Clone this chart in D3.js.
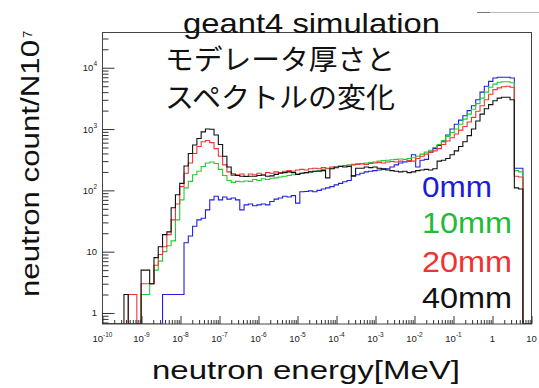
<!DOCTYPE html>
<html>
<head>
<meta charset="utf-8">
<script src="https://cdn.jsdelivr.net/npm/d3@7"></script>
<style>
  html, body { margin: 0; padding: 0; background: #fff; }
  svg { display: block; }
</style>
</head>
<body>
<svg id="chart" width="539" height="388"></svg>
<script>
// Histogram definition: 100 log-spaced energy bins from 1e-10 to 10 MeV
const binCount = 100;
const logEnergyMin = -10;
const logEnergyMax = 1;

// Moderator thickness series (drawing order: blue first, black last)
const seriesNames = ["0mm", "10mm", "20mm", "40mm"];
const seriesColors = ["#2020e0", "#22cc33", "#f03535", "#111111"];
const legendColors = ["#1c1cd8", "#22bb35", "#ee3333", "#111111"];

// Counts per bin (per 1e7 source neutrons), bin 0 .. bin 99
const counts0mm = [
  0, 0, 0, 0, 0, 0, 0, 0, 0, 0,
  0, 0, 0, 0, 2, 2, 2, 2, 2, 14,
  18, 26, 33, 35, 48, 70, 80, 70, 78, 72,
  75, 70, 48, 58, 60, 56, 58, 60, 58, 66,
  72, 75, 80, 78, 82, 62, 95, 96, 98, 95,
  100, 105, 110, 115, 123, 130, 138, 145, 175, 180,
  190, 200, 205, 210, 215, 220, 225, 240, 260, 280,
  290, 300, 380, 240, 310, 320, 420, 480, 540, 620,
  800, 1000, 1200, 1400, 1650, 2000, 2400, 3000, 4000, 5000,
  6000, 6800, 7000, 7000, 7000, 6800, 230, 230, 0, 0
];
const counts10mm = [
  0, 0, 0, 0, 0, 0, 0, 0, 0, 2,
  2, 3, 5, 7, 10, 12.5, 15, 33, 70, 110,
  140, 180, 205, 245, 280, 290, 275, 220, 175, 145,
  135, 140, 138, 142, 140, 150, 145, 155, 150, 158,
  160, 165, 170, 175, 180, 185, 190, 195, 200, 205,
  210, 220, 225, 230, 235, 245, 255, 260, 265, 270,
  275, 280, 285, 290, 300, 305, 310, 315, 320, 325,
  320, 330, 340, 360, 390, 420, 450, 500, 560, 650,
  760, 880, 1000, 1200, 1450, 1750, 2100, 2600, 3200, 4000,
  4800, 5400, 5800, 5900, 5900, 5700, 210, 200, 0, 0
];
const counts20mm = [
  0, 0, 0, 0, 0, 0, 2, 2, 0, 3,
  3, 3, 6, 9, 12, 19, 33, 60, 115, 190,
  280, 400, 520, 620, 650, 600, 480, 360, 260, 200,
  175, 180, 185, 170, 185, 180, 190, 178, 195, 190,
  200, 195, 205, 210, 205, 215, 220, 215, 225, 230,
  225, 235, 230, 240, 235, 250, 255, 250, 260, 265,
  270, 265, 275, 280, 285, 280, 290, 295, 290, 300,
  295, 305, 300, 330, 360, 390, 420, 440, 480, 560,
  640, 720, 830, 960, 1100, 1300, 1550, 1950, 2400, 3000,
  3700, 4400, 4700, 4900, 5000, 4800, 170, 165, 0, 0
];
const counts40mm = [
  0, 0, 0, 0, 0, 2, 0, 0, 0, 5,
  5, 3, 8, 12, 19, 21, 52, 85, 130, 250,
  400, 550, 700, 900, 1000, 990, 800, 560, 360, 240,
  185, 175, 170, 168, 170, 170, 175, 178, 170, 172,
  182, 190, 195, 200, 195, 182, 190, 195, 200, 205,
  205, 210, 160, 225, 240, 245, 240, 245, 170, 230,
  230, 240, 235, 240, 230, 225, 215, 210, 205, 200,
  205, 195, 200, 210, 215, 220, 215, 225, 300, 310,
  330, 380, 440, 520, 620, 780, 1000, 1350, 1750, 2150,
  2500, 2900, 3200, 3300, 3300, 3000, 110, 105, 0, 0
];
const seriesCounts = [counts0mm, counts10mm, counts20mm, counts40mm];

// Axis ticks
const xMajorTicks = [1e-10, 1e-9, 1e-8, 1e-7, 1e-6, 1e-5, 1e-4, 1e-3, 1e-2, 1e-1, 1, 10];
const xTickLabels = [
  ["10", "-10"], ["10", "-9"], ["10", "-8"], ["10", "-7"], ["10", "-6"], ["10", "-5"],
  ["10", "-4"], ["10", "-3"], ["10", "-2"], ["10", "-1"], ["1", ""], ["10", ""]
];
const yMajorTicks = [1, 10, 100, 1000, 10000];
const yTickLabels = [["1", ""], ["10", ""], ["10", "2"], ["10", "3"], ["10", "4"]];

const titleText = "geant4 simulation";
const noteLines = ["モデレータ厚さと", "スペクトルの変化"];
const xTitle = "neutron energy[MeV]";
const yTitle = "neutron count/N10";
const yTitleSup = "7";

// ---- layout ----
const svg = d3.select("#chart");
const frame = { left: 102.5, right: 531.5, top: 32.5, bottom: 324 };

const x = d3.scaleLog()
  .domain([Math.pow(10, logEnergyMin), Math.pow(10, logEnergyMax)])
  .range([frame.left, frame.right]);
const y = d3.scaleLog()
  .domain([0.661, 37580])
  .range([frame.bottom, frame.top]);

const binEdges = d3.range(binCount + 1)
  .map(i => Math.pow(10, logEnergyMin + (logEnergyMax - logEnergyMin) * i / binCount));

function minorTicks(scale) {
  const [d0, d1] = scale.domain();
  const out = [];
  for (let e = Math.floor(Math.log10(d0)); e <= Math.ceil(Math.log10(d1)); e++) {
    for (let k = 2; k <= 9; k++) {
      const v = k * Math.pow(10, e);
      if (v > d0 && v < d1) out.push(v);
    }
  }
  return out;
}

// clip for histogram lines
svg.append("defs").append("clipPath").attr("id", "plotClip")
  .append("rect")
  .attr("x", frame.left).attr("y", frame.top - 1)
  .attr("width", frame.right - frame.left + 1)
  .attr("height", frame.bottom - frame.top + 1);

// histograms
const histLayer = svg.append("g").attr("clip-path", "url(#plotClip)");
seriesCounts.forEach((counts, si) => {
  const base = frame.bottom;
  let d = `M${x(binEdges[0])},${base}`;
  counts.forEach((v, i) => {
    const yy = v > 0 ? y(v) : base;
    d += `V${yy}H${x(binEdges[i + 1])}`;
  });
  d += `V${base}`;
  histLayer.append("path")
    .attr("d", d)
    .attr("fill", "none")
    .attr("stroke", seriesColors[si])
    .attr("stroke-width", 1.1)
    .attr("stroke-linejoin", "miter");
});

// frame
svg.append("rect")
  .attr("x", frame.left).attr("y", frame.top)
  .attr("width", frame.right - frame.left)
  .attr("height", frame.bottom - frame.top)
  .attr("fill", "none")
  .attr("stroke", "#444")
  .attr("stroke-width", 1);

// x axis ticks (pointing inward)
const axisColor = "#333";
const gx = svg.append("g").attr("transform", `translate(0,${frame.bottom})`);
gx.call(d3.axisBottom(x).tickValues(xMajorTicks).tickSize(-8).tickFormat(""));
const gxm = svg.append("g").attr("transform", `translate(0,${frame.bottom})`);
gxm.call(d3.axisBottom(x).tickValues(minorTicks(x)).tickSize(-4).tickFormat(""));
[gx, gxm].forEach(g => {
  g.select(".domain").remove();
  g.selectAll("line").attr("stroke", axisColor);
});

// y axis ticks (pointing inward)
const gy = svg.append("g").attr("transform", `translate(${frame.left},0)`);
gy.call(d3.axisLeft(y).tickValues(yMajorTicks).tickSize(-12).tickFormat(""));
const gym = svg.append("g").attr("transform", `translate(${frame.left},0)`);
gym.call(d3.axisLeft(y).tickValues(minorTicks(y)).tickSize(-6).tickFormat(""));
[gy, gym].forEach(g => {
  g.select(".domain").remove();
  g.selectAll("line").attr("stroke", axisColor);
});

const labelFont = "'Liberation Sans', Arial, sans-serif";

// x tick labels with superscript exponents
xMajorTicks.forEach((v, i) => {
  const [base, sup] = xTickLabels[i];
  const t = svg.append("text")
    .attr("x", x(v)).attr("y", 342)
    .attr("text-anchor", "middle")
    .attr("font-family", labelFont)
    .attr("font-size", 9.5)
    .attr("fill", "#222");
  t.append("tspan").text(base);
  if (sup) {
    t.append("tspan").attr("dy", -5).attr("font-size", 6.5).text(sup);
  }
});

// y tick labels
yMajorTicks.forEach((v, i) => {
  const [base, sup] = yTickLabels[i];
  const t = svg.append("text")
    .attr("x", 97).attr("y", y(v) + 3.5)
    .attr("text-anchor", "end")
    .attr("font-family", labelFont)
    .attr("font-size", 9.5)
    .attr("fill", "#222");
  t.append("tspan").text(base);
  if (sup) {
    t.append("tspan").attr("dy", -5).attr("font-size", 6.5).text(sup);
  }
});

// axis titles
svg.append("text")
  .attr("x", 152).attr("y", 379)
  .attr("font-family", labelFont)
  .attr("font-size", 25)
  .attr("textLength", 308)
  .attr("lengthAdjust", "spacingAndGlyphs")
  .attr("fill", "#111")
  .text(xTitle);

svg.append("text")
  .attr("transform", "translate(39,297) rotate(-90)")
  .attr("font-family", labelFont)
  .attr("font-size", 25)
  .attr("textLength", 257)
  .attr("lengthAdjust", "spacingAndGlyphs")
  .attr("fill", "#111")
  .text(yTitle);
svg.append("text")
  .attr("transform", "translate(32,38) rotate(-90)")
  .attr("font-family", labelFont)
  .attr("font-size", 13)
  .attr("fill", "#111")
  .text(yTitleSup);

// title and note
svg.append("text")
  .attr("x", 183).attr("y", 33)
  .attr("font-family", labelFont)
  .attr("font-size", 28)
  .attr("textLength", 257)
  .attr("lengthAdjust", "spacingAndGlyphs")
  .attr("fill", "#111")
  .text(titleText);

noteLines.forEach((line, i) => {
  svg.append("text")
    .attr("x", 165).attr("y", 70 + i * 38)
    .attr("font-family", "'Noto Sans CJK JP', sans-serif")
    .attr("font-size", 28)
    .attr("textLength", 230)
    .attr("lengthAdjust", "spacingAndGlyphs")
    .attr("fill", "#111")
    .text(line);
});

// legend text in series colours
const legendY = [197, 233, 272, 308];
const legendW = [70, 90, 90, 90];
seriesNames.forEach((name, i) => {
  svg.append("text")
    .attr("x", 422).attr("y", legendY[i])
    .attr("font-family", labelFont)
    .attr("font-size", 30)
    .attr("textLength", legendW[i])
    .attr("lengthAdjust", "spacingAndGlyphs")
    .attr("fill", legendColors[i])
    .text(name);
});

// leftover stats-box edge at top right
svg.append("line")
  .attr("x1", 477).attr("x2", 539).attr("y1", 12.5).attr("y2", 12.5)
  .attr("stroke", "#bbb").attr("stroke-width", 1);
svg.append("line")
  .attr("x1", 477).attr("x2", 490).attr("y1", 12.5).attr("y2", 12.5)
  .attr("stroke", "#777").attr("stroke-width", 1);
</script>
</body>
</html>
